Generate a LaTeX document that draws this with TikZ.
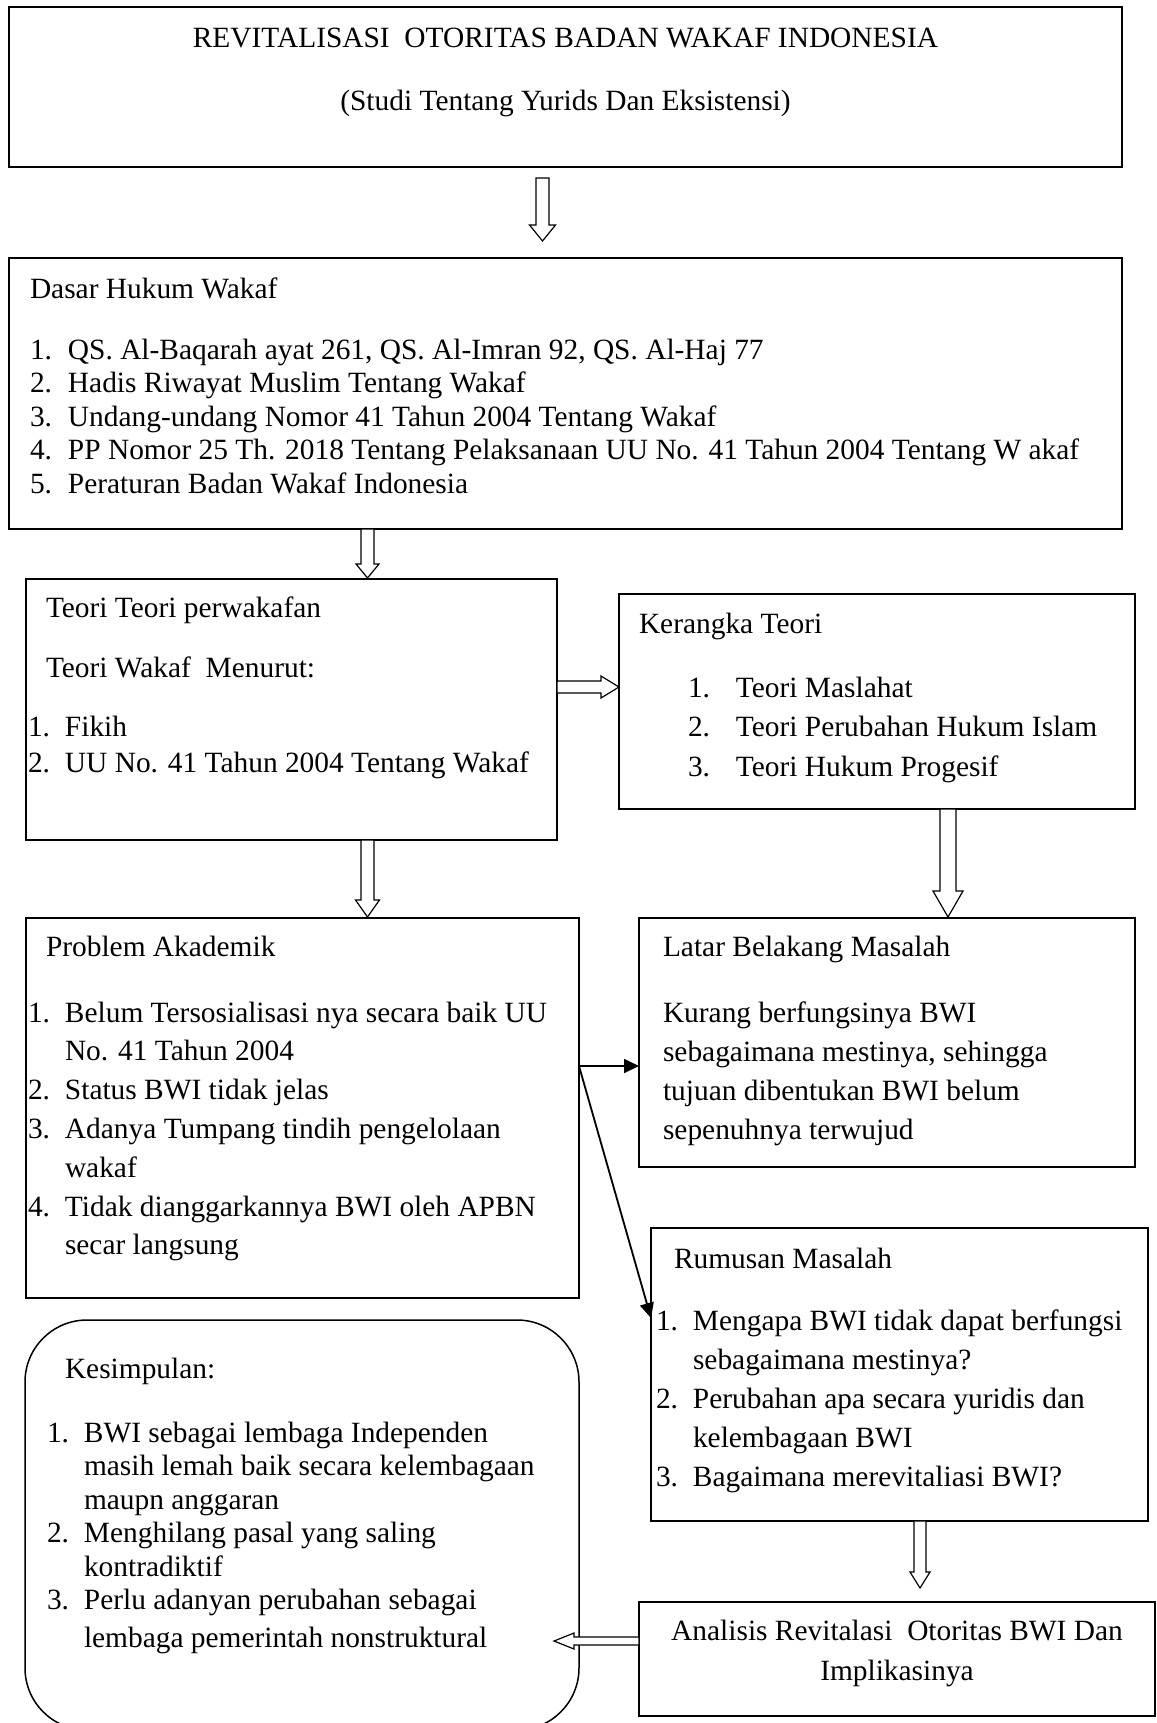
\documentclass[tikz,border=0pt]{standalone}
\usepackage{fontspec}
\setmainfont{Liberation Serif}
\usetikzlibrary{calc,arrows.meta}
\newcommand\fs[1]{\fontsize{29.4}{#1}\selectfont}
\newcommand\numit[2]{\makebox[#1][l]{#2}}
\newcommand\hollowV[5]{%
  \draw[harrow] let \p1=(#1), \p2=(#2) in
  (\x2-#3,\y1) -- (\x2+#3,\y1) -- (\x2+#3,\y2+#5) -- (\x2+#4,\y2+#5) -- (\x2,\y2)
  -- (\x2-#4,\y2+#5) -- (\x2-#3,\y2+#5) -- cycle;}
\newcommand\hollowR[5]{%
  \draw[harrow] let \p1=(#1), \p2=(#2) in
  (\x1,\y2-#3) -- (\x1,\y2+#3) -- (\x2-#5,\y2+#3) -- (\x2-#5,\y2+#4) -- (\x2,\y2)
  -- (\x2-#5,\y2-#4) -- (\x2-#5,\y2-#3) -- cycle;}
\newcommand\hollowL[5]{%
  \draw[harrow] let \p1=(#1), \p2=(#2) in
  (\x1,\y2-#3) -- (\x1,\y2+#3) -- (\x2+#5,\y2+#3) -- (\x2+#5,\y2+#4) -- (\x2,\y2)
  -- (\x2+#5,\y2-#4) -- (\x2+#5,\y2-#3) -- cycle;}
\tikzset{
  box/.style={draw, line width=1.5pt, inner sep=0pt, outer sep=0pt, anchor=north west},
  harrow/.style={draw, line width=1.2pt, fill=white, line join=miter},
  txt/.style={inner sep=0pt, outer sep=0pt, align=left, anchor=north west},
  lbl/.style={inner sep=0pt, outer sep=0pt, anchor=base west, font=\fs{34}},
  solidarrow/.style={line width=1.8pt, -{Triangle[length=15pt,width=14pt]}}
}
\begin{document}
\begin{tikzpicture}[x=1pt,y=-1pt]
\clip (0,0) rectangle (1156,1723);
\fill[white] (0,0) rectangle (1156,1723);

% boxes
\node[box, minimum width=1113pt, minimum height=160pt] (top) at (9,7) {};
\node[box, minimum width=1113pt, minimum height=271pt] (dasar) at (9,258) {};
\node[box, minimum width=531pt, minimum height=261pt] (teori) at (26,579) {};
\node[box, minimum width=516pt, minimum height=215pt] (kerangka) at (619,594) {};
\node[box, minimum width=553pt, minimum height=380pt] (problem) at (26,918) {};
\node[box, minimum width=496pt, minimum height=249pt] (latar) at (639,918) {};
\node[box, minimum width=497pt, minimum height=293pt] (rumusan) at (651,1228) {};
\node[box, minimum width=516pt, minimum height=114pt] (analisis) at (639,1602) {};
\node[box, rounded corners=62pt, minimum width=554pt, minimum height=410pt] (kesimpulan) at (25,1320) {};

% top texts
\node[inner sep=0pt, anchor=base, font=\fs{34}] (title1) at (565.5,48) {REVITALISASI\ \ OTORITAS BADAN WAKAF INDONESIA};
\node[inner sep=0pt, anchor=base, font=\fs{34}] (title2) at (565.5,111) {(Studi Tentang Yurids Dan Eksistensi)};

% Dasar
\node[lbl] (dasart) at (30,298) {Dasar Hukum Wakaf};
\node[txt, font=\fs{33.5}] (dasarl) at (30,337) {\rule{0pt}{22pt}\numit{38pt}{1.}QS. Al-Baqarah ayat 261, QS. Al-Imran 92, QS. Al-Haj 77\\
\numit{38pt}{2.}Hadis Riwayat Muslim Tentang Wakaf\\
\numit{38pt}{3.}Undang-undang Nomor 41 Tahun 2004 Tentang Wakaf\\
\numit{38pt}{4.}PP Nomor 25 Th. 2018 Tentang Pelaksanaan UU No. 41 Tahun 2004 Tentang W akaf\\
\numit{38pt}{5.}Peraturan Badan Wakaf Indonesia};

% Teori
\node[lbl] (teorit) at (46,617) {Teori Teori perwakafan};
\node[lbl] (teorit2) at (46,677) {Teori Wakaf\ \ Menurut:};
\node[txt, font=\fs{36}] (teoril) at (28,714) {\rule{0pt}{22pt}\numit{37pt}{1.}Fikih\\
\numit{37pt}{2.}UU No. 41 Tahun 2004 Tentang Wakaf};

% Kerangka
\node[lbl] (kerangkat) at (639,633) {Kerangka Teori};
\node[txt, font=\fs{39.5}] (kerangkal) at (688,675) {\rule{0pt}{22pt}\numit{48pt}{1.}Teori Maslahat\\
\numit{48pt}{2.}Teori Perubahan Hukum Islam\\
\numit{48pt}{3.}Teori Hukum Progesif};

% Problem
\node[lbl] (problemt) at (46,956) {Problem Akademik};
\node[txt, font=\fs{38.8}] (probleml) at (28,1000) {\rule{0pt}{22pt}\numit{37pt}{1.}Belum Tersosialisasi nya secara baik UU\\
\hspace*{37pt}No. 41 Tahun 2004\\
\numit{37pt}{2.}Status BWI tidak jelas\\
\numit{37pt}{3.}Adanya Tumpang tindih pengelolaan\\
\hspace*{37pt}wakaf\\
\numit{37pt}{4.}Tidak dianggarkannya BWI oleh APBN\\
\hspace*{37pt}secar langsung};

% Latar
\node[lbl] (latart) at (663,956) {Latar Belakang Masalah};
\node[txt, font=\fs{39}] (latarl) at (663,1000) {\rule{0pt}{22pt}Kurang berfungsinya BWI\\
sebagaimana mestinya, sehingga\\
tujuan dibentukan BWI belum\\
sepenuhnya terwujud};

% Rumusan
\node[lbl] (rumusant) at (674,1268) {Rumusan Masalah};
\node[txt, font=\fs{39.2}] (rumusanl) at (656,1308) {\rule{0pt}{22pt}\numit{37pt}{1.}Mengapa BWI tidak dapat berfungsi\\
\hspace*{37pt}sebagaimana mestinya?\\
\numit{37pt}{2.}Perubahan apa secara yuridis dan\\
\hspace*{37pt}kelembagaan BWI\\
\numit{37pt}{3.}Bagaimana merevitaliasi BWI?};

% Analisis
\node[inner sep=0pt, anchor=north, align=center, font=\fs{40}] (analisist) at (897,1618) {\rule{0pt}{22pt}Analisis Revitalasi\ \ Otoritas BWI Dan\\ Implikasinya};

% Kesimpulan
\node[lbl] (kesimpulant) at (65,1378) {Kesimpulan:};
\node[txt, font=\fs{33.5}] (kesimpulanl) at (47,1420) {\rule{0pt}{22pt}\numit{37pt}{1.}BWI sebagai lembaga Independen\\
\hspace*{37pt}masih lemah baik secara kelembagaan\\
\hspace*{37pt}maupn anggaran\\
\numit{37pt}{2.}Menghilang pasal yang saling\\
\hspace*{37pt}kontradiktif\\
\numit{37pt}{3.}Perlu adanyan perubahan sebagai\\[4pt]
\hspace*{37pt}lembaga pemerintah nonstruktural};

% connector end points
\coordinate (a1s) at (542.5,178);
\coordinate (a1e) at (542.5,241);
\coordinate (a2s) at (367.5,529);
\coordinate (a2e) at (367.5,578);
\coordinate (a3s) at (557,687);
\coordinate (a3e) at (619,687);
\coordinate (a4s) at (367.5,840);
\coordinate (a4e) at (367.5,917);
\coordinate (a5s) at (948,809);
\coordinate (a5e) at (948,917);
\coordinate (a6s) at (579,1066);
\coordinate (a6e) at (639,1066);
\coordinate (a7e) at (651,1318);
\coordinate (a8s) at (920,1521);
\coordinate (a8e) at (920,1588);
\coordinate (a9s) at (639,1641);
\coordinate (a9e) at (554,1641);

% hollow arrows
\hollowV{a1s}{a1e}{6.5pt}{13pt}{16pt}
\hollowV{a2s}{a2e}{6.5pt}{11.5pt}{14pt}
\hollowR{a3s}{a3e}{6pt}{11pt}{18pt}
\hollowV{a4s}{a4e}{6.5pt}{12pt}{17pt}
\hollowV{a5s}{a5e}{8pt}{15pt}{26pt}
\hollowV{a8s}{a8e}{6pt}{10pt}{16pt}
\hollowL{a9s}{a9e}{4pt}{8pt}{20pt}

% solid arrows
\draw[solidarrow] (a6s) -- (a6e);
\draw[solidarrow] (a6s) -- (a7e);
\end{tikzpicture}
\end{document}
